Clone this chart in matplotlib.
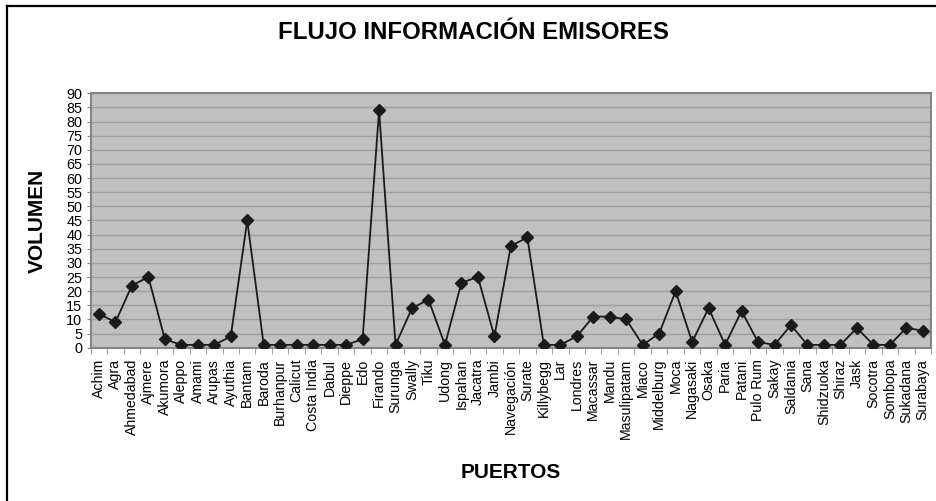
import matplotlib
matplotlib.use("Agg")
import matplotlib.pyplot as plt
from matplotlib.lines import Line2D
import numpy as np

puertos = ["Achim", "Agra", "Ahmedabad", "Ajmere", "Akumora", "Aleppo", "Amami",
           "Arupas", "Ayuthia", "Bantam", "Baroda", "Burhanpur", "Calicut",
           "Costa India", "Dabul", "Dieppe", "Edo", "Firando", "Surunga", "Swally",
           "Tiku", "Udong", "Ispahan", "Jacatra", "Jambi", "Navegación", "Surate",
           "Killybegg", "Lar", "Londres", "Macassar", "Mandu", "Masulipatam",
           "Miaco", "Middelburg", "Moca", "Nagasaki", "Osaka", "Paria", "Patani",
           "Pulo Rum", "Sakay", "Saldania", "Sana", "Shidzuoka", "Shiraz", "Jask",
           "Socotra", "Sombopa", "Sukadana", "Surabaya"]
volumen = [12, 9, 22, 25, 3, 1, 1, 1, 4, 45, 1, 1, 1, 1, 1, 1, 3, 84, 1, 14,
           17, 1, 23, 25, 4, 36, 39, 1, 1, 4, 11, 11, 10, 1, 5, 20, 2, 14, 1, 13,
           2, 1, 8, 1, 1, 1, 7, 1, 1, 7, 6]
y_ticks = list(range(0, 95, 5))


def main():
    plt.rcParams['font.family'] = ['Liberation Sans', 'DejaVu Sans']
    fig = plt.figure(figsize=(9.36, 5.01), dpi=100)
    ax = fig.add_axes([0.0969, 0.306, 0.8978, 0.5078])

    x = np.arange(len(puertos))
    ax.plot(x, volumen, color='#1a1a1a', lw=1.3, marker='D', ms=6,
            markerfacecolor='#1a1a1a', markeredgecolor='#1a1a1a', zorder=3)

    ax.set_facecolor('#c0c0c0')
    ax.set_xlim(-0.5, len(puertos) - 0.5)
    ax.set_ylim(0, 90)
    ax.set_yticks(y_ticks)
    ax.set_yticklabels([str(v) for v in y_ticks], fontsize=10.4)
    ax.grid(True, axis='y', color='#a0a0a0', lw=1)
    ax.set_axisbelow(True)

    ax.set_xticks(x)
    ax.set_xticklabels(puertos, rotation=90, fontsize=10.2, va='top')
    ax.set_xticks(np.arange(-0.5, len(puertos), 1), minor=True)
    ax.tick_params(axis='x', which='major', length=0, pad=8)
    ax.tick_params(axis='x', which='minor', length=4, color='#909090', direction='out')
    ax.tick_params(axis='y', length=3, color='#808080', pad=3)

    for s in ax.spines.values():
        s.set_color('#858585')
        s.set_linewidth(1.5)

    fig.text(0.506, 1 - 32.5 / 501, "FLUJO INFORMACIÓN EMISORES", ha='center',
             va='center', fontsize=17.3, fontweight='bold')
    fig.text(37.5 / 936, 1 - 221 / 501, "VOLUMEN", rotation=90, ha='center',
             va='center', fontsize=15, fontweight='bold')
    fig.text(511 / 936, 1 - 472 / 501, "PUERTOS", ha='center', va='center',
             fontsize=15, fontweight='bold')

    # marco exterior
    fig.add_artist(Line2D([6.5 / 936, 1], [1 - 6 / 501, 1 - 6 / 501],
                          transform=fig.transFigure, color='black', lw=1.6))
    fig.add_artist(Line2D([6.5 / 936, 6.5 / 936], [0, 1 - 6 / 501],
                          transform=fig.transFigure, color='black', lw=1.6))

    fig.savefig("out.png", dpi=100)


if __name__ == '__main__':
    main()
